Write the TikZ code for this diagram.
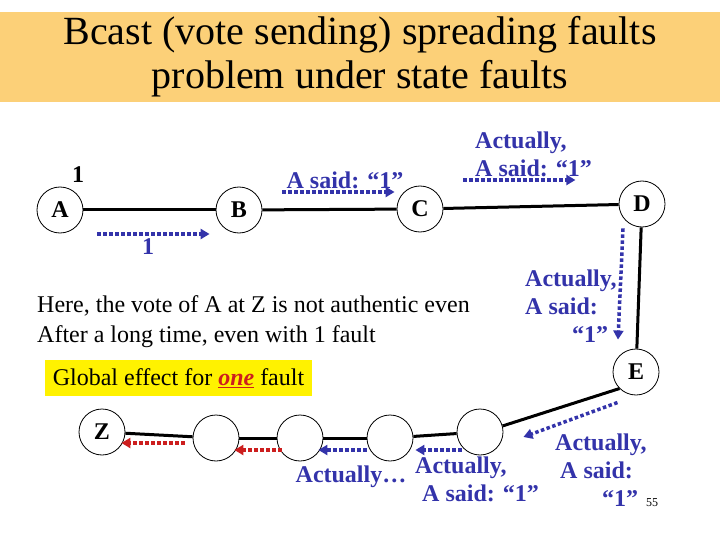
\documentclass[tikz,border=0pt]{standalone}
\usepackage{fontspec}
\setmainfont{Liberation Serif}
\usetikzlibrary{arrows.meta, positioning}

\definecolor{titlebg}{RGB}{252,208,120}
\definecolor{msgblue}{RGB}{51,51,170}
\definecolor{fltred}{RGB}{204,30,30}

\begin{document}
\begin{tikzpicture}[
    x=1pt, y=-1pt,
    stn/.style={draw, circle, line width=0.8pt, minimum size=46pt, inner sep=0pt, font=\fontsize{24}{28}\selectfont\bfseries},
    link/.style={line width=3pt, black},
    msg/.style={-{Triangle[length=9pt, width=10pt]}, line width=3.5pt, dash pattern=on 3.5pt off 2.5pt, msgblue},
    bad/.style={msg, fltred},
    say/.style={text=msgblue, font=\fontsize{24}{28}\selectfont\bfseries, align=left, inner sep=0pt},
    body/.style={font=\fontsize{24}{30}\selectfont, align=left, inner sep=0pt},
]
\useasboundingbox (0,0) rectangle (720,540);

% Title band
\fill[titlebg] (0,12) rectangle (720,102);
\node[font=\fontsize{40}{44}\selectfont, align=center] (title) at (360,57) {Bcast (vote sending) spreading faults\\problem under state faults};

% Stations on the path
\node[stn] (A) at (60,210) {A};
\node[stn] (B) at (239,210) {B};
\node[stn] (C) at (420,209) {C};
\node[stn] (D) at (642,204) {D};
\node[stn] (E) at (636,372) {E};
\node[stn] (n4) at (480,432) {};
\node[stn] (n3) at (390,438) {};
\node[stn] (n2) at (300,438) {};
\node[stn] (n1) at (216,438) {};
\node[stn] (Z) at (102,432) {Z};

% Links
\foreach \u/\v in {A/B, B/C, C/D, D/E, n4/n3, n3/n2, n2/n1, n1/Z}
    \draw[link] (\u) -- (\v);
\draw[link] (E.south west) -- (n4.15);

% Votes passed along
\draw[msg] ([xshift=14pt,yshift=-24pt]A.east) -- ([xshift=-6pt,yshift=-24pt]B.west);
\draw[msg] ([xshift=20pt,yshift=18pt]B.east) -- ([xshift=-2pt,yshift=17pt]C.west);
\draw[msg] ([xshift=20pt,yshift=29pt]C.east) -- ++(112,0);
\draw[msg] ([xshift=-19pt,yshift=-1pt]D.south) -- ([xshift=-18pt,yshift=9pt]E.north);
\draw[msg] ([xshift=-2pt,yshift=-14pt]E.south west) -- ([xshift=20pt,yshift=-5pt]n4.east);
\draw[msg] ([xshift=5pt,yshift=-18pt]n4.west) -- ([xshift=2pt,yshift=-12pt]n3.east);
\draw[msg] ([yshift=-12pt]n3.west) -- ([xshift=-5pt,yshift=-12pt]n2.east);
\draw[bad] ([xshift=5pt,yshift=-12pt]n2.west) -- ([xshift=-5pt,yshift=-12pt]n1.east);
\draw[bad] ([xshift=-8pt,yshift=-5pt]n1.west) -- ([xshift=-4pt,yshift=-11pt]Z.east);

% Labels
\node[font=\fontsize{24}{28}\selectfont\bfseries] (vA) at (78,175) {1};
\node[say] (l1) at (148,247) {1};
\node[say] (l2) at (345,180) {A said: “1”};
\node[say, anchor=west] (l3) at (475,154) {Actually,\\A said: “1”};
\node[say, anchor=west] (l4) at (525,306) {Actually,\\A said:\\\hspace*{47pt}“1”};
\node[say, anchor=west] (l5) at (555,470) {Actually,\\\hspace*{5pt}A said:\\\hspace*{47pt}“1”};
\node[say, anchor=west] (l6) at (415,479) {Actually,\\\hspace*{7pt}A said: “1”};
\node[say] (l7) at (351,477) {Actually…};

% Notes
\node[body, anchor=west] (note) at (37,322) {Here, the vote of A at Z is not authentic even\\After a long time, even with 1 fault};
\node[fill=yellow, minimum width=267pt, minimum height=36pt, inner sep=0pt, font=\fontsize{24}{28}\selectfont] (glob) at (178.5,378) {Global effect for \textcolor{fltred}{\underline{\textbf{\textit{one}}}} fault};
\node[font=\fontsize{12}{14}\selectfont] (pg) at (652,503) {55};

\end{tikzpicture}
\end{document}
